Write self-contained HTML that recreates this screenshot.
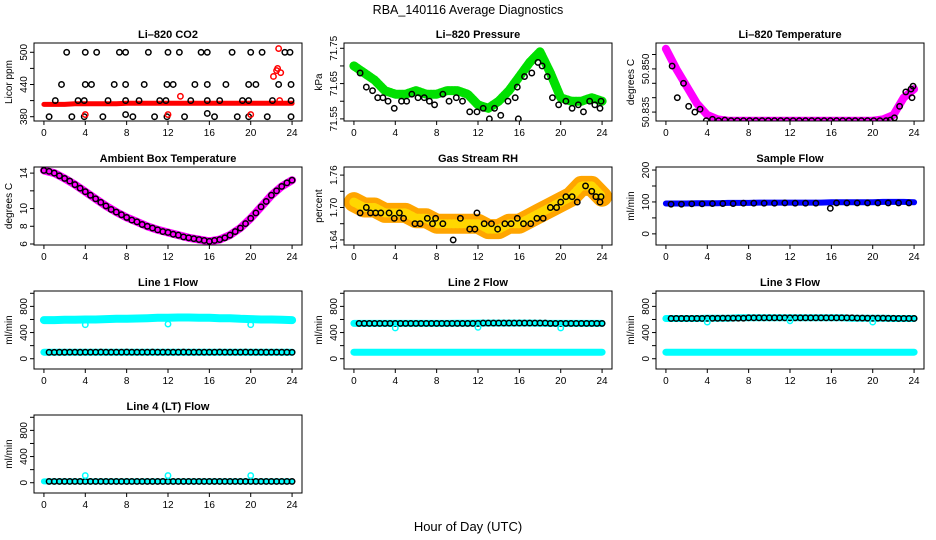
<!DOCTYPE html>
<html>
<head>
<meta charset="utf-8">
<style>
  html, body { margin: 0; padding: 0; background: #fff; }
  svg { display: block; font-family: "Liberation Sans", sans-serif; }
</style>
</head>
<body>
<svg id="fig" width="936" height="540" viewBox="0 0 936 540">
  <text x="468" y="14" text-anchor="middle" font-size="12.5">RBA_140116  Average Diagnostics</text>
  <text x="468" y="531" text-anchor="middle" font-size="13">Hour of Day (UTC)</text>
</svg>
<script>
// ---------- data ----------
const hours = [0,1,2,3,4,5,6,7,8,9,10,11,12,13,14,15,16,17,18,19,20,21,22,23,24];
const halfHours = [0.5,1,1.5,2,2.5,3,3.5,4,4.5,5,5.5,6,6.5,7,7.5,8,8.5,9,9.5,10,10.5,11,11.5,12,12.5,13,13.5,14,14.5,15,15.5,16,16.5,17,17.5,18,18.5,19,19.5,20,20.5,21,21.5,22,22.5,23,23.5,24];
const xTicks = [0,4,8,12,16,20,24];

// CO2
const co2Band = [403,403,403,404,404,404,404,404,405,405,405,405,405,405,405,405,405,405,405,405,405,405,405,405,405];
const co2RedHours = [4,12,13.2,20,22.2,22.5,22.6,22.7,22.8,22.9];
const co2RedVals = [384,384,418,384,455,466,470,507,410,462];
const co2BlackHours = [2.2,4,5.1,7.3,7.9,10.1,12,13.1,15.2,15.8,18.2,20,21.1,23.3,23.8,1.7,4,4.6,6.8,7.9,9.7,11.9,12.5,14.6,15.8,17.6,19.8,20.5,22.7,23.9,1.1,3.3,3.9,6.2,7.9,9.2,11.2,11.8,14.2,15.8,17,19.2,19.8,22.1,23.9,0.5,2.7,3.9,5.7,7.9,8.6,10.7,11.9,13.6,15.8,16.5,18.7,19.8,21.6,23.9];
const co2BlackVals = [500,500,500,500,500,500,500,500,500,500,500,500,500,500,500,440,440,440,440,440,440,440,440,440,440,440,440,440,440,440,410,410,410,410,410,410,410,410,410,410,410,410,410,410,410,380,380,380,380,384,380,380,380,380,386,380,380,380,380,380];

// Pressure
const presBand = [71.70,71.68,71.66,71.63,71.62,71.62,71.63,71.62,71.62,71.63,71.63,71.62,71.59,71.58,71.60,71.63,71.67,71.71,71.74,71.68,71.61,71.60,71.60,71.61,71.60];
const presCircHours = [0.6,1.2,1.8,2.3,2.8,3.3,3.9,4.6,5.1,5.6,6.2,6.8,7.3,7.8,8.6,9.2,9.9,10.5,11.2,11.9,12.5,13.1,13.6,14.2,14.9,15.6,15.9,15.8,16.5,17.2,17.8,18.2,18.7,19.2,19.8,20.5,21.1,21.7,22.2,22.8,23.3,23.8,23.9];
const presCircVals = [71.68,71.64,71.63,71.61,71.61,71.60,71.58,71.60,71.60,71.62,71.61,71.61,71.60,71.59,71.62,71.60,71.61,71.60,71.57,71.57,71.58,71.55,71.58,71.56,71.60,71.61,71.55,71.64,71.67,71.68,71.71,71.70,71.67,71.61,71.59,71.60,71.58,71.59,71.57,71.60,71.59,71.58,71.60];

// Li-820 temperature
const tempBand = [50.857,50.850,50.844,50.838,50.834,50.8325,50.832,50.832,50.832,50.832,50.832,50.832,50.832,50.832,50.832,50.832,50.832,50.832,50.832,50.832,50.832,50.8325,50.834,50.840,50.843];
const tempCircHours = [0.6,1.1,1.7,2.2,2.8,3.3,3.9,4.5,5.1,5.7,6.3,6.9,7.5,8.1,8.7,9.3,9.9,10.5,11.1,11.7,12.3,12.9,13.5,14.1,14.7,15.3,15.9,16.5,17.1,17.7,18.3,18.9,19.5,20.1,20.7,21.3,21.7,22.1,22.6,23.2,23.7,23.8,23.9];
const tempCircVals = [50.851,50.840,50.845,50.837,50.835,50.836,50.832,50.8325,50.832,50.8322,50.832,50.832,50.832,50.832,50.832,50.832,50.832,50.832,50.832,50.832,50.832,50.832,50.832,50.832,50.832,50.832,50.832,50.832,50.832,50.832,50.832,50.832,50.832,50.832,50.832,50.832,50.8322,50.833,50.837,50.842,50.843,50.840,50.844];

// Ambient box temperature
const ambBand = [14.3,14.0,13.4,12.7,11.9,11.1,10.3,9.6,9.0,8.5,8.0,7.6,7.3,7.0,6.7,6.5,6.3,6.5,7.0,7.8,8.9,10.2,11.5,12.5,13.2];
const ambCircHours = [0.5,1.5,2.5,3.5,4.5,5.5,6.5,7.5,8.5,9.5,10.5,11.5,12.5,13.5,14.5,15.5,16.5,17.5,18.5,19.5,20.5,21.5,22.5,23.5];
const ambCircVals = [14.2,13.7,13.1,12.3,11.5,10.7,9.9,9.3,8.7,8.2,7.8,7.4,7.1,6.8,6.6,6.4,6.4,6.7,7.4,8.3,9.5,10.8,12.0,12.9];

// Gas stream RH
const rhBand = [1.71,1.70,1.70,1.69,1.69,1.69,1.68,1.68,1.67,1.67,1.67,1.67,1.67,1.66,1.66,1.67,1.67,1.68,1.69,1.70,1.71,1.72,1.74,1.74,1.72];
const rhCircHours = [0.6,1.2,1.6,2.1,2.6,3.4,3.9,4.4,4.8,5.9,6.4,7.1,7.6,7.9,8.6,9.6,10.3,11.2,11.7,11.9,12.6,13.3,13.9,14.6,15.2,15.8,16.4,17.1,17.7,18.3,19.0,19.6,20.0,20.5,21.1,21.6,22.4,23.0,23.4,23.8,23.9];
const rhCircVals = [1.69,1.70,1.69,1.69,1.69,1.69,1.68,1.69,1.68,1.67,1.67,1.68,1.67,1.68,1.67,1.64,1.68,1.66,1.66,1.69,1.67,1.67,1.66,1.67,1.67,1.68,1.67,1.67,1.68,1.68,1.70,1.70,1.71,1.72,1.72,1.71,1.74,1.73,1.72,1.71,1.72];

// Sample flow
const sfBand = [95,95,95,96,96,96,97,97,97,98,98,98,98,98,98,98,99,99,99,99,99,100,100,100,99];
const sfCircHours = [0.5,1.5,2.5,3.5,4.5,5.5,6.5,7.5,8.5,9.5,10.5,11.5,12.5,13.5,14.5,15.9,16.5,17.5,18.5,19.5,20.5,21.5,22.5,23.5];
const sfCircVals = [93,93,94,94,95,95,95,96,96,96,96,97,96,96,96,80,97,97,97,97,97,97,97,97];

// Line flows
const dipHours = [4,12,20];
const l1Upper = [590,590,595,595,600,600,605,610,610,615,620,625,625,630,630,625,625,620,620,610,605,600,600,595,590];
const l1Lower = [100,100,100,100,100,100,100,100,100,100,100,100,100,100,100,100,100,100,100,100,100,100,100,100,100];
const l1Black = [98,98,99,99,100,100,99,100,100,100,101,100,100,100,100,101,100,100,100,100,101,100,100,100,100,100,101,100,100,100,100,100,100,101,100,100,100,100,101,100,100,100,99,100,100,99,99,98];
const l1Dips = [520,530,520];

const l2Upper = [540,540,540,540,540,540,540,540,540,540,542,542,545,545,545,545,545,545,542,540,540,540,540,540,540];
const l2Lower = [100,100,100,100,100,100,100,100,100,100,100,100,100,100,100,100,100,100,100,100,100,100,100,100,100];
const l2Black = [540,540,540,540,540,540,540,540,540,540,540,540,540,540,540,540,540,540,540,540,540,540,540,540,545,545,545,545,545,545,545,545,545,545,545,545,545,540,540,540,540,540,540,540,540,540,540,540];
const l2Dips = [470,480,470];

const l3Upper = [615,615,615,615,620,620,620,625,625,625,625,625,625,625,625,625,625,625,620,620,620,620,615,615,615];
const l3Lower = [100,100,100,100,100,100,100,100,100,100,100,100,100,100,100,100,100,100,100,100,100,100,100,100,100];
const l3Black = [615,615,615,615,615,615,615,618,618,618,620,620,620,620,620,625,625,625,625,625,625,625,625,625,625,625,625,625,625,625,625,625,625,625,625,625,622,622,620,620,620,620,618,618,615,615,615,615];
const l3Dips = [560,580,560];

const l4Band = [20,20,20,20,20,20,20,20,20,20,20,20,20,20,20,20,20,20,20,20,20,20,20,20,20];
const l4Black = [20,20,20,20,20,20,20,20,20,20,20,20,20,20,20,20,20,20,20,20,20,20,20,20,20,20,20,20,20,20,20,20,20,20,20,20,20,20,20,20,20,20,20,20,20,20,20,20];
const l4Dips = [110,110,110];

// ---------- drawing ----------
const NS = 'http://www.w3.org/2000/svg';
const svg = document.getElementById('fig');
const COLS = [34, 344, 656];
const ROWS = [43, 167, 291, 415];
const PW = 268, PH = 78;

function mk(tag, attrs, parent) {
  const e = document.createElementNS(NS, tag);
  for (const k in attrs) e.setAttribute(k, attrs[k]);
  (parent || svg).appendChild(e);
  return e;
}

function makePanel(col, row, title, ylab, yTop, yBot, yTicks, yLabels, name) {
  const x0 = COLS[col], y0 = ROWS[row];
  const g = mk('g', {});
  
  
  const xs = h => x0 + PW * (h + 0.96) / 25.92;
  const ys = v => y0 + PH * (yTop - v) / (yTop - yBot);
  const clipId = 'clip-' + name;
  const cp = mk('clipPath', { id: clipId }, g);
  mk('rect', { x: x0, y: y0, width: PW, height: PH }, cp);
  const plot = mk('g', { 'clip-path': 'url(#' + clipId + ')' }, g);
  
  

  const box = mk('rect', { x: x0, y: y0, width: PW, height: PH, fill: 'none', stroke: '#000', 'stroke-width': 1 }, g);
  
  

  const t = mk('text', { x: x0 + PW / 2, y: y0 - 5, 'text-anchor': 'middle', 'font-size': 11, 'font-weight': 'bold' }, g);
  t.textContent = title;
  
  

  const xa = mk('g', {}, g);
  
  
  xTicks.forEach(h => {
    const x = xs(h);
    mk('line', { x1: x, x2: x, y1: y0 + PH, y2: y0 + PH + 4, stroke: '#000' }, xa);
    const lb = mk('text', { x: x, y: y0 + PH + 15, 'text-anchor': 'middle', 'font-size': 10 }, xa);
    lb.textContent = String(h);
    
    
  });
  const ya = mk('g', {}, g);
  
  
  yTicks.forEach(v => {
    const y = ys(v);
    mk('line', { x1: x0 - 4, x2: x0, y1: y, y2: y, stroke: '#000' }, ya);
  });
  yLabels.forEach(v => {
    const y = ys(v);
    const lb = mk('text', { x: x0 - 7, y: y, 'text-anchor': 'middle', 'font-size': 10, transform: 'rotate(-90 ' + (x0 - 7) + ' ' + y + ')' }, ya);
    lb.textContent = String(v);
    
    
  });
  const yt = mk('text', { x: x0 - 22, y: y0 + PH / 2, 'text-anchor': 'middle', 'font-size': 10, transform: 'rotate(-90 ' + (x0 - 22) + ' ' + (y0 + PH / 2) + ')' }, g);
  yt.textContent = ylab;
  
  
  return { xs, ys, plot };
}

function band(p, hx, vals, color, width, name, opts) {
  const pts = hx.map((h, i) => p.xs(h).toFixed(1) + ',' + p.ys(vals[i]).toFixed(1)).join(' ');
  const a = { points: pts, fill: 'none', stroke: color, 'stroke-width': width, 'stroke-linejoin': 'round', 'stroke-linecap': 'round' };
  if (opts) for (const k in opts) a[k] = opts[k];
  const pl = mk('polyline', a, p.plot);
  
  
}
function circles(p, hx, vals, color, name, r) {
  hx.forEach((h, i) => {
    const c = mk('circle', { cx: p.xs(h), cy: p.ys(vals[i]), r: r || 2.7, fill: 'none', stroke: color, 'stroke-width': 1.5 }, p.plot);
    
    
  });
}

// Panel 1: CO2
let p = makePanel(0, 0, 'Li\u2013820 CO2', 'Licor ppm', 517.3, 372, [380,410,440,470,500], [380,440,500], 'co2');
band(p, hours, co2Band, '#ff0000', 5, 'co2-band');
circles(p, co2BlackHours, co2BlackVals, '#000', 'co2-point');
circles(p, co2RedHours, co2RedVals, '#ff0000', 'co2-red-point');

// Panel 2: Pressure
p = makePanel(1, 0, 'Li\u2013820 Pressure', 'kPa', 71.765, 71.544, [71.55,71.60,71.65,71.70,71.75], ['71.55','71.65','71.75'], 'pressure');
band(p, hours, presBand, '#00e000', 9, 'pressure-band', { 'stroke-dasharray': '2 1' });
circles(p, presCircHours, presCircVals, '#000', 'pressure-point');

// Panel 3: Li-820 temperature
p = makePanel(2, 0, 'Li\u2013820 Temperature', 'degrees C', 50.859, 50.8319, [50.835,50.840,50.845,50.850,50.855], ['50.835','50.850'], 'li820-temp');
band(p, hours, tempBand, '#ff00ff', 8, 'li820-temp-band');
circles(p, tempCircHours, tempCircVals, '#000', 'li820-temp-point');

// Panel 4: Ambient
p = makePanel(0, 1, 'Ambient Box Temperature', 'degrees C', 14.69, 5.886, [6,8,10,12,14], [6,8,10,14], 'ambient');
band(p, hours, ambBand, '#ff00ff', 8, 'ambient-band');
circles(p, ambCircHours, ambCircVals, '#000', 'ambient-point');
circles(p, hours, ambBand, '#000', 'ambient-point');

// Panel 5: RH
p = makePanel(1, 1, 'Gas Stream RH', 'percent', 1.775, 1.6306, [1.64,1.67,1.70,1.73,1.76], ['1.64','1.70','1.76'], 'rh');
band(p, hours, rhBand, '#ffa500', 20, 'rh-band-outer');
band(p, hours, rhBand, '#ffd700', 9, 'rh-band-inner', { 'stroke-dasharray': '2 2' });
circles(p, rhCircHours, rhCircVals, '#000', 'rh-point');

// Panel 6: Sample flow
p = makePanel(2, 1, 'Sample Flow', 'ml/min', 209.5, -34.9, [0,50,100,150,200], [0,100,200], 'sample-flow');
band(p, hours, sfBand, '#0000ff', 6, 'sample-flow-band');
circles(p, sfCircHours, sfCircVals, '#000', 'sample-flow-point');

// Row 3/4 flows
const fTop = 1035, fBot = -157, fTicks = [0,200,400,600,800,1000], fLabels = [0,400,800];
p = makePanel(0, 2, 'Line 1 Flow', 'ml/min', fTop, fBot, fTicks, fLabels, 'line1');
band(p, hours, l1Upper, '#00ffff', 8, 'line1-upper-band');
band(p, hours, l1Lower, '#00ffff', 7, 'line1-lower-band');
circles(p, halfHours, l1Black, '#000', 'line1-point');
circles(p, dipHours, l1Dips, '#00ffff', 'line1-dip-point');

p = makePanel(1, 2, 'Line 2 Flow', 'ml/min', fTop, fBot, fTicks, fLabels, 'line2');
band(p, hours, l2Upper, '#00ffff', 7, 'line2-upper-band');
band(p, hours, l2Lower, '#00ffff', 7, 'line2-lower-band');
circles(p, halfHours, l2Black, '#000', 'line2-point');
circles(p, dipHours, l2Dips, '#00ffff', 'line2-dip-point');

p = makePanel(2, 2, 'Line 3 Flow', 'ml/min', fTop, fBot, fTicks, fLabels, 'line3');
band(p, hours, l3Upper, '#00ffff', 7, 'line3-upper-band');
band(p, hours, l3Lower, '#00ffff', 7, 'line3-lower-band');
circles(p, halfHours, l3Black, '#000', 'line3-point');
circles(p, dipHours, l3Dips, '#00ffff', 'line3-dip-point');

p = makePanel(0, 3, 'Line 4 (LT) Flow', 'ml/min', fTop, fBot, fTicks, fLabels, 'line4');
band(p, hours, l4Band, '#00ffff', 6, 'line4-band');
circles(p, halfHours, l4Black, '#000', 'line4-point');
circles(p, dipHours, l4Dips, '#00ffff', 'line4-dip-point');
</script>
</body>
</html>
